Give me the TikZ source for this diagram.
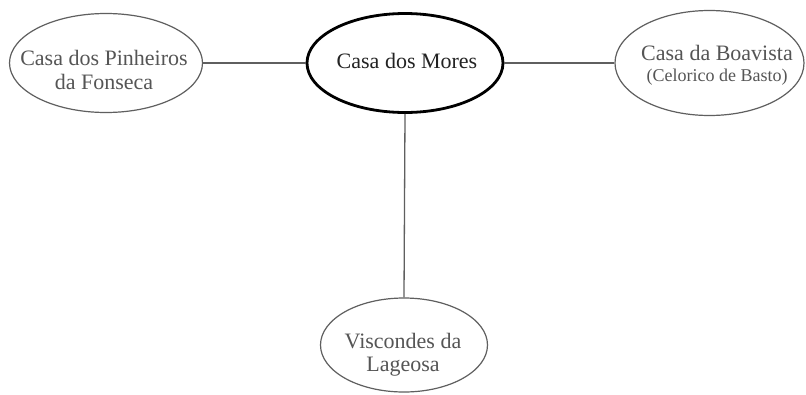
\documentclass[tikz,border=0pt]{standalone}
\usepackage{fontspec}
\setmainfont{Liberation Serif}
\usetikzlibrary{shapes.geometric}
\definecolor{edgegray}{RGB}{95,95,95}
\definecolor{textgray}{RGB}{85,85,85}
\definecolor{textdark}{RGB}{35,35,35}
\begin{document}
\begin{tikzpicture}[x=1pt,y=-1pt,
  outer/.style={ellipse,draw=edgegray,line width=1.2pt,inner sep=0pt},
  mainell/.style={ellipse,draw=black,line width=2.8pt,inner sep=0pt},
  txt/.style={inner sep=0pt,align=center,text=textgray,font=\fontsize{22}{24}\selectfont},
  conn/.style={draw=edgegray,line width=1.3pt}]
\useasboundingbox (0,0) rectangle (806,394);
\fill[white] (0,0) rectangle (806,394);
% ellipses
\node[mainell,minimum width=196pt,minimum height=99pt] (mores) at (405,63) {};
\node[outer,minimum width=193pt,minimum height=99pt] (pinh) at (106,63) {};
\node[outer,minimum width=189pt,minimum height=105pt] (boav) at (709.5,63) {};
\node[outer,minimum width=167pt,minimum height=94pt] (visc) at (404,345) {};
% texts
\node[txt,text=textdark] (moresT) at (407,61) {Casa dos Mores};
\node[txt] (pinhT) at (104,70) {Casa dos Pinheiros\\da Fonseca};
\node[txt] (boavT) at (717,65) {Casa da Boavista\\[-3pt]{\fontsize{18}{20}\selectfont (Celorico de Basto)}};
\node[txt,font=\fontsize{22}{23}\selectfont] (viscT) at (403,355) {Viscondes da\\Lageosa};
% connectors
\draw[conn] (pinh.east) -- (mores.west);
\draw[conn] (mores.east) -- (boav.west);
\draw[conn] (mores.south) -- (visc.north);
\end{tikzpicture}
\end{document}
